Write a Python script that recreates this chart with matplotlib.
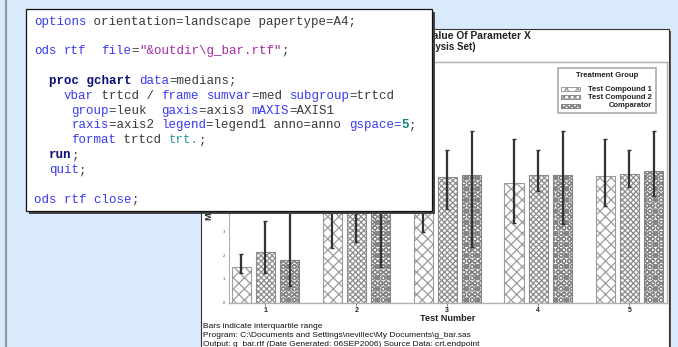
import matplotlib
matplotlib.use("Agg")
import matplotlib.pyplot as plt
from matplotlib.patches import Rectangle
import numpy as np

# ---- data -------------------------------------------------------------
groups = ["1", "2", "3", "4", "5"]
treatments = ["Test Compound 1", "Test Compound 2", "Comparator"]
med_tc1 = [1.52, 4.95, 5.10, 5.04, 5.36]
med_tc2 = [2.15, 5.05, 5.32, 5.40, 5.43]
med_cmp = [1.80, 4.90, 5.39, 5.39, 5.56]
q1_tc1 = [1.24, 2.30, 3.00, 3.38, 4.08]
q1_tc2 = [1.24, 2.57, 3.94, 4.71, 4.89]
q1_cmp = [0.70, 1.49, 2.33, 3.32, 4.51]
q3_tc1 = [2.05, 6.89, 6.89, 6.89, 6.89]
q3_tc2 = [3.46, 6.44, 6.44, 6.44, 6.44]
q3_cmp = [4.60, 7.26, 7.26, 7.26, 7.26]
yticks = [0, 1, 2, 3, 4, 5, 6, 7, 8, 9, 10]

title_lines = ["Median Value Of Parameter X", "(Full Analysis Set)"]
y_title = "Median Value"
x_title = "Test Number"
legend_title = "Treatment Group"
footnotes = [
    "Bars indicate interquartile range",
    "Program: C:\\Documents and Settings\\nevillec\\My Documents\\g_bar.sas",
    "Output: g_bar.rtf (Date Generated: 06SEP2006) Source Data: crt.endpoint",
]

# SAS code listing: each line is a list of (text, style) tokens
code_lines = [
    [("options", "kw"), (" orientation=landscape papertype=A4;", "tx")],
    [],
    [("ods", "kw"), (" ", "tx"), ("rtf", "kw"), ("  ", "tx"), ("file", "kw"),
     ("=", "tx"), ('"&outdir\\g_bar.rtf"', "st"), (";", "tx")],
    [],
    [("  ", "tx"), ("proc gchart", "pb"), (" ", "tx"), ("data", "kw"), ("=medians;", "tx")],
    [("    ", "tx"), ("vbar", "kw"), (" trtcd / ", "tx"), ("frame", "kw"), (" ", "tx"),
     ("sumvar", "kw"), ("=med ", "tx"), ("subgroup", "kw"), ("=trtcd", "tx")],
    [("     ", "tx"), ("group", "kw"), ("=leuk  ", "tx"), ("gaxis", "kw"), ("=axis3 ", "tx"),
     ("mAXIS", "kw"), ("=AXIS1", "tx")],
    [("     ", "tx"), ("raxis", "kw"), ("=axis2 ", "tx"), ("legend", "kw"),
     ("=legend1 anno=anno ", "tx"), ("gspace=", "kw"), ("5", "nb"), (";", "tx")],
    [("     ", "tx"), ("format", "kw"), (" trtcd ", "tx"), ("trt.", "fm"), (";", "tx")],
    [("  ", "tx"), ("run", "pb"), (";", "tx")],
    [("  ", "tx"), ("quit", "kw"), (";", "tx")],
    [],
    [("ods rtf close", "kw"), (";", "tx")],
]
code_styles = {
    "kw": dict(color="#3a3aee", fontweight="normal"),
    "tx": dict(color="#3a3a3a", fontweight="normal"),
    "st": dict(color="#a52aa5", fontweight="normal"),
    "pb": dict(color="#10107a", fontweight="bold"),
    "nb": dict(color="#108080", fontweight="bold"),
    "fm": dict(color="#2a9a9a", fontweight="normal"),
}

# ---- figure -----------------------------------------------------------
W, H = 678, 347
fig = plt.figure(figsize=(W / 100, H / 100), dpi=100)
fig.patch.set_facecolor("#d8eafb")
plt.rcParams["hatch.linewidth"] = 0.9

# listing box geometry (pixels)
box_x, box_y, box_w, box_h = 26, 9, 406, 202


def px_axes(z):
    a = fig.add_axes([0, 0, 1, 1], zorder=z)
    a.set_xlim(0, W)
    a.set_ylim(H, 0)
    a.axis("off")
    a.patch.set_alpha(0)
    return a


ax0 = px_axes(0)
# slide margin line
ax0.plot([6, 6], [0, H], color="#9a9a9a", lw=1.6, solid_capstyle="butt")
# chart page with shadow
ax0.add_patch(Rectangle((203, 31), 468, 330, facecolor="#555555", edgecolor="none"))
ax0.add_patch(Rectangle((201, 29), 468, 330, facecolor="white", edgecolor="#333333", lw=0.8))

sans = ["Liberation Sans", "DejaVu Sans"]
ax0.text(531, 36, title_lines[0], ha="right", va="center", fontsize=7.4,
         fontweight="bold", color="#222222", family=sans)
ax0.text(476, 47, title_lines[1], ha="right", va="center", fontsize=7.0,
         fontweight="bold", color="#222222", family=sans)
for i, line in enumerate(footnotes):
    ax0.text(203, 326 + i * 9.2, line, ha="left", va="center", fontsize=6.0,
             color="#111111", family=sans)
# vertical response-axis title, starting just below the listing
ax0.text(210, 220, y_title, rotation=90, ha="center", va="bottom", fontsize=6.5,
         fontweight="bold", color="#222222", family=sans)

# ---- bar chart --------------------------------------------------------
x_left, x_right, y_top, y_base = 229, 666.7, 62, 302.7
px_per_unit = 23.7
ax = fig.add_axes([x_left / W, (H - y_base) / H, (x_right - x_left) / W,
                   (y_base - y_top) / H], zorder=1)
ax.patch.set_alpha(0)

grp_px = 91.0
x = np.arange(1, len(groups) + 1)
bar_w = 19 / grp_px
offs = 24.3 / grp_px
meds = [med_tc1, med_tc2, med_cmp]
q1s = [q1_tc1, q1_tc2, q1_cmp]
q3s = [q3_tc1, q3_tc2, q3_cmp]
hatches = ["xxx", "xxxxxx", "xxxOOO"]
hcolors = ["#9c9c9c", "#8c8c8c", "#858585"]

for k in range(3):
    xs = x + (k - 1) * offs
    ax.bar(xs, meds[k], width=bar_w, facecolor="white", edgecolor=hcolors[k],
           hatch=hatches[k], lw=0.8, zorder=2)
    lo = np.array(meds[k]) - np.array(q1s[k])
    hi = np.array(q3s[k]) - np.array(meds[k])
    ax.errorbar(xs, meds[k], yerr=[lo, hi], fmt="none", ecolor="#333333",
                elinewidth=1.6, capsize=1.2, capthick=1.0, zorder=3)

ax.set_xlim(1 - (265.3 - x_left) / grp_px, 5 + (x_right - 629.3) / grp_px)
ax.set_ylim(0, (y_base - y_top) / px_per_unit)
ax.set_xticks(x)
ax.set_xticklabels(groups, fontsize=5, fontweight="bold", color="#222222", family=sans)
ax.set_yticks(yticks)
ylabels = ax.set_yticklabels([str(v) for v in yticks], fontsize=2.5, color="#333333")
# tick labels that sit underneath the listing box are not drawn
for v, lab in zip(yticks, ylabels):
    if y_base - v * px_per_unit < box_y + box_h + 4:
        lab.set_visible(False)
ax.tick_params(axis="x", length=2, width=0.6, color="#666666", pad=1)
ax.tick_params(axis="y", length=0, pad=3)
ax.set_xlabel(x_title, fontsize=6.6, fontweight="bold", color="#222222",
              family=sans, labelpad=0)
for s in ["top", "right", "bottom"]:
    ax.spines[s].set_color("#b0b0b0")
    ax.spines[s].set_linewidth(1.0)
ax.spines["left"].set_color("#b0b0b0")
ax.spines["left"].set_linestyle((0, (1, 1)))

# ---- overlay: legend and code listing ---------------------------------
ax2 = px_axes(2)
ax2.add_patch(Rectangle((557.7, 68.3), 98, 44.4, facecolor="white",
                        edgecolor="#aaaaaa", lw=1.2))
ax2.text(606.7, 75.5, legend_title, ha="center", va="center", fontsize=5.6,
         fontweight="bold", color="#222222", family=sans)
for k, name in enumerate(treatments):
    yc = 89 + k * 8.3
    ax2.add_patch(Rectangle((561, yc - 2), 19, 4, facecolor="white",
                            edgecolor=hcolors[k], hatch=hatches[k], lw=0.7))
    ax2.text(652, yc, name, ha="right", va="center", fontsize=5.5,
             fontweight="bold", color="#222222", family=sans)

# code box with drop shadow
ax2.add_patch(Rectangle((box_x + 2.5, box_y + 2.5), box_w, box_h + 0.5,
                        facecolor="#444444", edgecolor="none"))
ax2.add_patch(Rectangle((box_x, box_y), box_w, box_h, facecolor="white",
                        edgecolor="#111111", lw=0.9))

cw = 0.6 * 9 * 100 / 72  # monospace advance in pixels
line_y = [21.7, 36.5, 50.7, 65.7, 80.7, 95.6, 110.5, 125.4, 140.3, 155.2, 170.2, 185.1, 200.0]
for ln, toks in enumerate(code_lines):
    col = 0
    for txt, sty in toks:
        if txt.strip():
            ax2.text(box_x + 8 + col * cw, line_y[ln], txt, ha="left", va="center",
                     fontsize=9, family="Liberation Mono", **code_styles[sty])
        col += len(txt)

fig.savefig("out.png", dpi=100, facecolor=fig.get_facecolor())
